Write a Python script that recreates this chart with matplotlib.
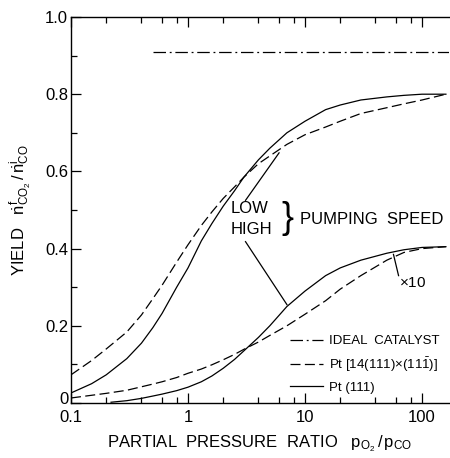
import matplotlib
matplotlib.use("Agg")
import matplotlib.pyplot as plt
import matplotlib.transforms as mtransforms
from matplotlib.ticker import LogLocator, MultipleLocator, FixedLocator, FixedFormatter, NullFormatter

plt.rcParams['font.family'] = ['Liberation Sans', 'DejaVu Sans']
plt.rcParams['mathtext.fontset'] = 'custom'
plt.rcParams['mathtext.rm'] = 'Liberation Sans'
plt.rcParams['mathtext.it'] = 'Liberation Sans'
plt.rcParams['mathtext.default'] = 'regular'

# partial pressure ratio pO2/pCO
x = [0.1, 0.15, 0.2, 0.3, 0.4, 0.5, 0.6, 0.8, 1, 1.3, 1.6, 2, 2.5, 3, 4, 5, 7,
     10, 15, 20, 30, 50, 70, 100, 160]

# low pumping speed
stepped_low = [0.073, 0.11, 0.14, 0.184, 0.228, 0.27, 0.305, 0.365, 0.41, 0.46,
               0.495, 0.53, 0.56, 0.585, 0.62, 0.64, 0.67, 0.695, 0.715, 0.73,
               0.75, 0.765, 0.775, 0.785, 0.80]
flat_low = [0.026, 0.05, 0.073, 0.115, 0.155, 0.195, 0.232, 0.30, 0.35, 0.42,
            0.465, 0.51, 0.55, 0.585, 0.63, 0.66, 0.70, 0.73, 0.76, 0.772, 0.785,
            0.793, 0.797, 0.80, 0.80]

# high pumping speed (x10)
stepped_high = [0.013, 0.02, 0.025, 0.033, 0.042, 0.049, 0.055, 0.066, 0.077,
                0.088, 0.099, 0.112, 0.126, 0.139, 0.158, 0.175, 0.20, 0.23,
                0.265, 0.295, 0.33, 0.37, 0.39, 0.40, 0.405]
x_flat_high = [0.22, 0.3, 0.4, 0.5, 0.6, 0.8, 1, 1.3, 1.6, 2, 2.5, 3, 4, 5, 7,
               10, 15, 20, 30, 50, 70, 100, 160]
flat_high = [0.002, 0.006, 0.012, 0.018, 0.023, 0.032, 0.041, 0.055, 0.07,
             0.09, 0.113, 0.135, 0.17, 0.20, 0.25, 0.29, 0.33, 0.35, 0.37,
             0.388, 0.397, 0.403, 0.405]

x_ideal = [0.5, 170]
ideal = [0.91, 0.91]

fig = plt.figure(figsize=(4.5, 4.58), dpi=100)
ax = fig.add_axes([71/450, 55/458, 378/450, 386/458])

k = dict(color='black', lw=0.9)
ax.plot(x_ideal, ideal, dashes=(10, 3, 1.5, 3), **k, label='IDEAL  CATALYST')
ax.plot(x, stepped_low, dashes=(8, 3.5), **k, label=r'Pt [14(111)$\times$(11$\bar{1}$)]')
ax.plot(x, flat_low, **k, label='Pt (111)')
ax.plot(x, stepped_high, dashes=(8, 3.5), **k)
ax.plot(x_flat_high, flat_high, **k)

ax.set_xscale('log')
ax.set_xlim(0.1, 170)
ax.set_ylim(0, 1.0)

ax.xaxis.set_major_locator(FixedLocator([0.1, 1, 10, 100]))
ax.xaxis.set_major_formatter(FixedFormatter(['0.1', '1', '10', '100']))
ax.xaxis.set_minor_locator(LogLocator(base=10, subs=[2, 4, 6, 8]))
ax.xaxis.set_minor_formatter(NullFormatter())
ax.yaxis.set_major_locator(FixedLocator([0, 0.2, 0.4, 0.6, 0.8, 1.0]))
ax.yaxis.set_major_formatter(FixedFormatter(['0', '0.2', '0.4', '0.6', '0.8', '1.0']))
ax.yaxis.set_minor_locator(MultipleLocator(0.1))

ax.tick_params(which='both', direction='in', top=True, right=False,
               labelsize=12, width=0.9)
ax.tick_params(axis='x', pad=5)
ax.tick_params(axis='y', pad=2)
ax.tick_params(which='major', length=7)
ax.tick_params(which='minor', length=4)
ax.spines['right'].set_visible(False)
for s in ['left', 'top', 'bottom']:
    ax.spines[s].set_linewidth(1.0)

# lift the "0" label a little so it clears "0.1"
fig.canvas.draw()
shift = mtransforms.ScaledTranslation(0, 5/100, fig.dpi_scale_trans)
ylab0 = ax.yaxis.get_majorticklabels()[0]
ylab0.set_transform(ylab0.get_transform() + shift)

ax.set_xlabel(r'PARTIAL  PRESSURE  RATIO   $p_{O_2}\,/\,p_{CO}$', fontsize=12, labelpad=6)
ax.set_ylabel(r'YIELD   $\dot{n}^{f}_{CO_2}\,/\,\dot{n}^{i}_{CO}$', fontsize=12, labelpad=8)

# annotations
ax.text(2.3, 0.505, 'LOW', fontsize=12, ha='left', va='center')
ax.text(2.3, 0.45, 'HIGH', fontsize=12, ha='left', va='center')
ax.text(6.3, 0.478, '}', fontsize=26, ha='left', va='center', fontweight='light')
ax.text(9.0, 0.475, 'PUMPING  SPEED', fontsize=12, ha='left', va='center')
ax.plot([3.1, 6.0], [0.525, 0.648], **k)
ax.plot([3.1, 7.0], [0.418, 0.255], **k)
ax.plot([57, 63], [0.385, 0.33], **k)
ax.text(63, 0.31, r'$\times$10', fontsize=11, ha='left', va='center')

leg = ax.legend(loc='upper left', bbox_to_anchor=(0.565, 0.19), frameon=False,
                fontsize=9.5, handlelength=2.5, handletextpad=0.5,
                labelspacing=0.6, borderaxespad=0)

fig.savefig('out.png', dpi=100)
